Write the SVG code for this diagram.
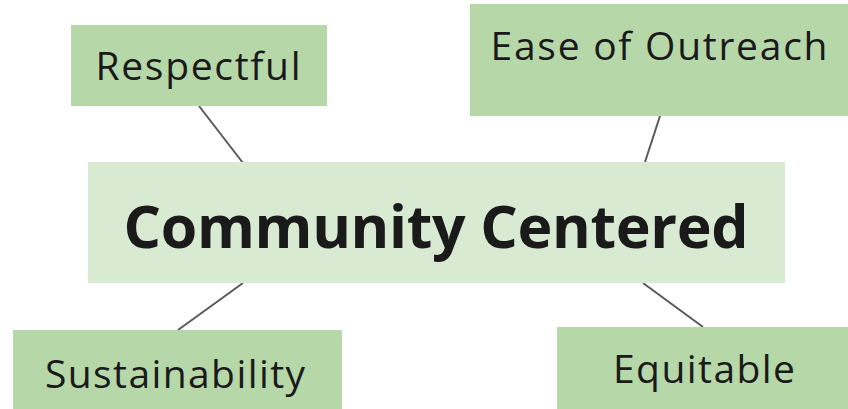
<svg xmlns="http://www.w3.org/2000/svg" width="848" height="409" viewBox="0 0 848 409">
<style>
.leaf{fill:#b6d7a8}
.center{fill:#d9ead3}
.lbl{font-family:"Open Sans","Liberation Sans",sans-serif;font-size:39px;fill:#1a1a1a;text-anchor:middle}
.title{font-family:"Open Sans","Liberation Sans",sans-serif;font-size:59px;font-weight:700;fill:#1a1a1a;text-anchor:middle}
.conn line{stroke:#595959;stroke-width:2}
</style>
<rect width="848" height="409" fill="#ffffff"/>
<g id="connectors" class="conn">
<line x1="199" y1="106" x2="243" y2="163"/>
<line x1="660" y1="116" x2="645" y2="162"/>
<line x1="178" y1="330" x2="243" y2="283"/>
<line x1="643" y1="283" x2="703" y2="327"/>
</g>
<g id="center">
<rect class="center" x="88" y="162" width="697" height="121"/>
<text class="title" x="436" y="248" textLength="625">Community Centered</text>
</g>
<g id="respectful">
<rect class="leaf" x="71" y="25" width="256" height="81"/>
<text class="lbl" x="198" y="80" textLength="205">Respectful</text>
</g>
<g id="ease">
<rect class="leaf" x="470" y="4" width="378" height="112"/>
<text class="lbl" x="659" y="60" textLength="337">Ease of Outreach</text>
</g>
<g id="sustainability">
<rect class="leaf" x="13" y="330" width="329" height="79"/>
<text class="lbl" x="175" y="388" textLength="260">Sustainability</text>
</g>
<g id="equitable">
<rect class="leaf" x="557" y="327" width="291" height="82"/>
<text class="lbl" x="704" y="383" textLength="182">Equitable</text>
</g>
</svg>
